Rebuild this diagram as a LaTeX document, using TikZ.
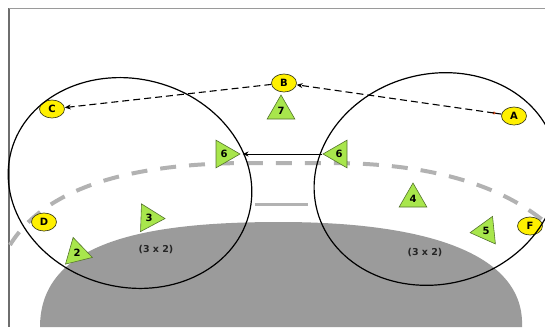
\documentclass[tikz,border=0pt]{standalone}
\usepackage{fontspec}
\setmainfont{DejaVu Sans}
\usetikzlibrary{shapes.geometric,arrows.meta}
\definecolor{blobgray}{RGB}{155,155,155}
\definecolor{dashgray}{RGB}{178,178,178}
\definecolor{framegray}{RGB}{110,110,110}
\definecolor{trigreen}{RGB}{168,230,76}
\definecolor{triedge}{RGB}{85,115,45}
\definecolor{ballyellow}{RGB}{255,240,0}
\definecolor{balledge}{RGB}{70,70,30}
\definecolor{reddot}{RGB}{225,80,30}
\begin{document}
\begin{tikzpicture}[x=1pt,y=-1pt,
  tri/.style={regular polygon, regular polygon sides=3, minimum size=32pt,
    inner sep=0pt, fill=trigreen, draw=triedge, line width=0.6pt,
    font=\bfseries\fontsize{10}{10}\selectfont},
  ball/.style={ellipse, minimum width=25pt, minimum height=18pt, inner sep=0pt,
    fill=ballyellow, draw=balledge, line width=0.7pt,
    font=\bfseries\fontsize{10}{10}\selectfont},
  lbl/.style={inner sep=0pt, text=black!85, font=\bfseries\fontsize{9.5}{9.5}\selectfont},
  zone/.style={draw=black, line width=1.2pt},
  pass/.style={draw=black, line width=1.1pt, dash pattern=on 7pt off 4pt,
    -{Stealth[length=6pt,width=5pt]}},
  move/.style={draw=black, line width=0.9pt, shorten >=2pt,
    -{Stealth[length=6pt,width=5pt]}},
  runline/.style={draw=dashgray, line width=4pt, dash pattern=on 16pt off 13pt}
]
\useasboundingbox (0,0) rectangle (545,327);

% frame
\draw[framegray, line width=2pt] (9,8) -- (9,327);
\draw[framegray!70, line width=0.8pt] (9,8) -- (545,8);

% grey area
\fill[blobgray] (40,327) .. controls (40,240) and (150,222) .. (280,222)
  .. controls (430,222) and (525,255) .. (522,327) -- cycle;

% dashed grey run line
\draw[runline] (10,245) .. controls (50,180) and (150,163) .. (250,163)
  -- (330,163) .. controls (430,163) and (500,185) .. (545,222);
\draw[dashgray, line width=3pt] (255,204) -- (308,204);

% players
\node[ball] (A) at (514,116) {A};
\node[ball] (B) at (284,83) {B};
\node[ball] (C) at (52,109) {C};
\node[ball] (D) at (44,222) {D};
\node[ball] (F) at (530,226) {F};

\node[tri] (t7) at (281,111) {7};
\node[tri, shape border rotate=-90] (l6) at (224,154) {6};
\node[tri, shape border rotate=90] (r6) at (339,154) {6};
\node[tri, shape border rotate=-92] (t3) at (149,218) {3};
\node[tri, shape border rotate=-106] (t2) at (77,253) {2};
\node[tri] (t4) at (413,199) {4};
\node[tri, shape border rotate=96] (t5) at (486,231) {5};

\node[lbl] (L1) at (156,250) {(3 x 2)};
\node[lbl] (L2) at (425,253) {(3 x 2)};

% zones
\draw[zone, rotate around={-15:(130,183)}] (130,183) ellipse [x radius=123, y radius=104];
\draw[zone, rotate around={15:(436,179)}] (436,179) ellipse [x radius=123, y radius=105];

% passes
\coordinate (a0) at (494,113);
\draw[black, line width=1.1pt] (A) -- (a0);
\fill[reddot] (a0) circle (1.6);
\draw[pass] (a0) -- (B);
\draw[pass] (B) -- (C);
\draw[move] (r6.corner 1) -- (l6.corner 1);
\end{tikzpicture}
\end{document}
